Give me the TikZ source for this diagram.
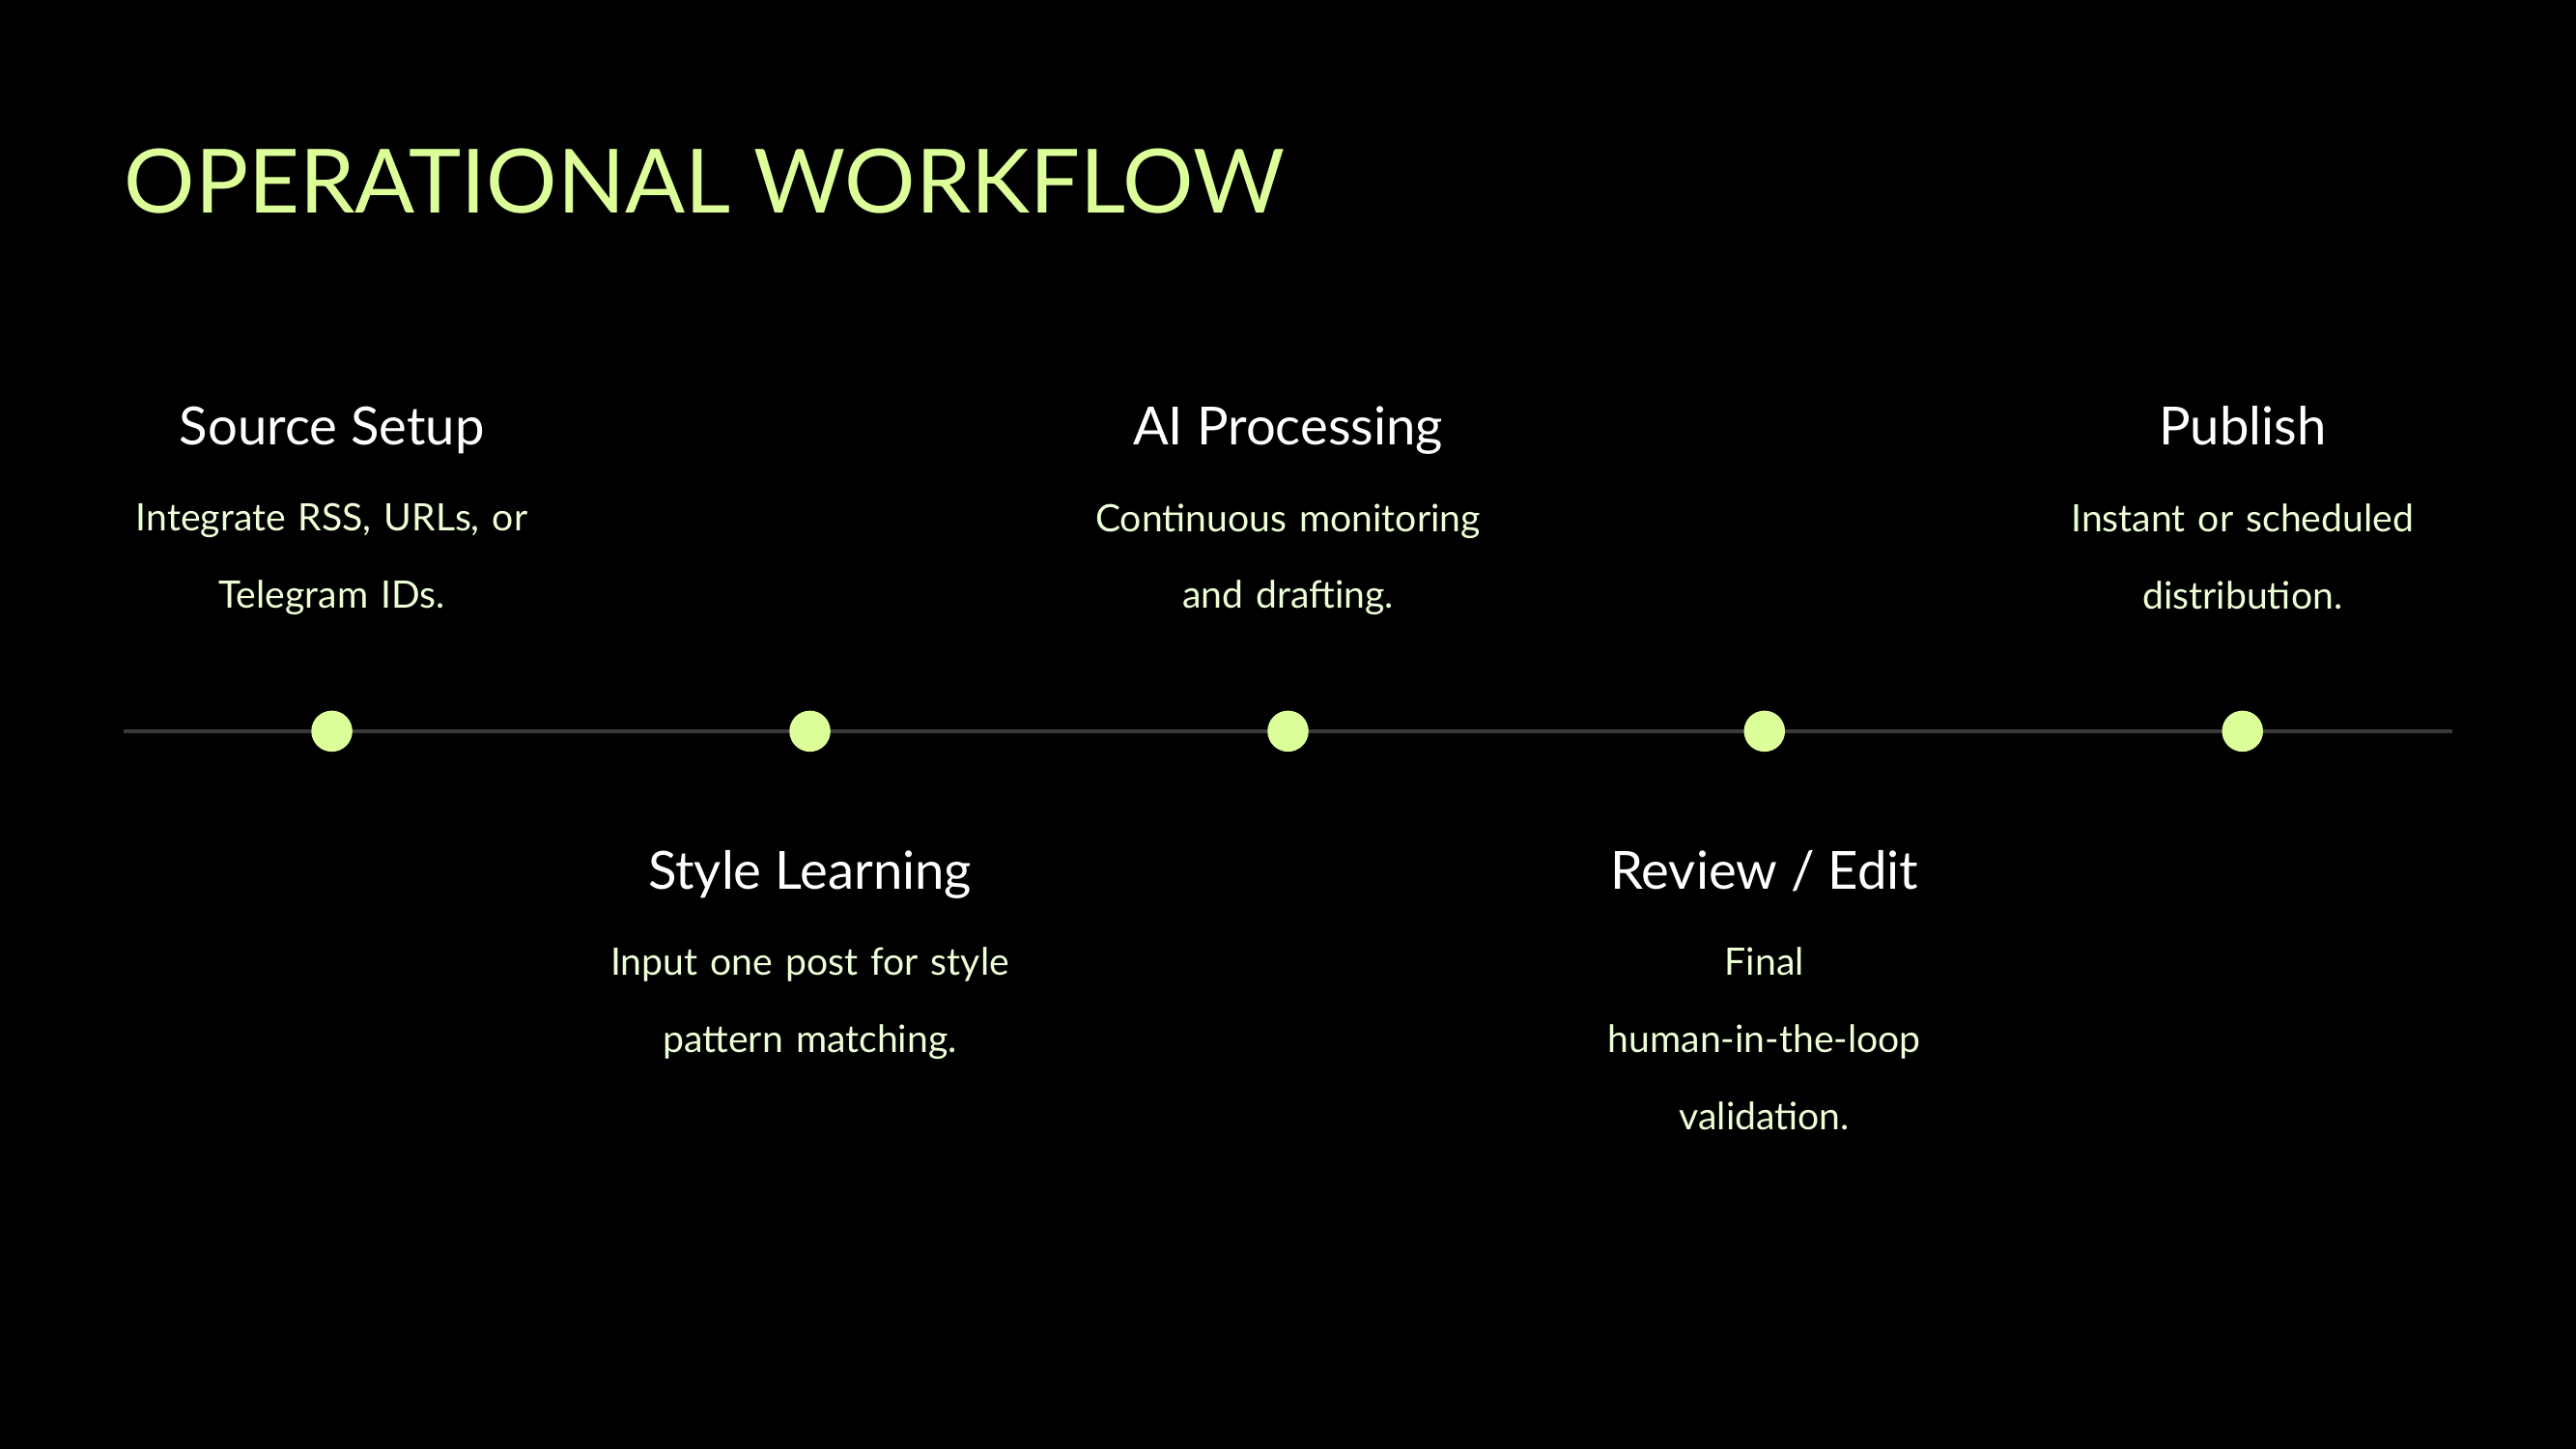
\documentclass[tikz,border=0pt]{standalone}
\usepackage{fontspec}
\setmainfont{Lato}
\definecolor{lime}{HTML}{DDFF99}
\definecolor{pale}{HTML}{EEFFD8}
\definecolor{track}{HTML}{3A3A3A}
\begin{document}
\begin{tikzpicture}[x=1pt,y=-1pt,
  head/.style={text=white,font=\fontsize{32}{36}\selectfont,anchor=base},
  desc/.style={text=pale,font=\fontsize{23}{47}\selectfont,align=center,anchor=north,text width=260pt},
  dot/.style={circle,fill=lime,minimum size=25pt,inner sep=0pt}]
\fill[black] (0,0) rectangle (1568,882);
\useasboundingbox (0,0) rectangle (1568,882);
\node[text=lime,font=\fontsize{54}{60}\selectfont,anchor=west] (title) at (72,110) {OPERATIONAL WORKFLOW};
\coordinate (l) at (75,445); \coordinate (r) at (1493,445);
\draw[track,line width=2pt] (l) -- (r);
\foreach \n/\x in {a/202,b/493,c/784,d/1074,e/1365}{\node[dot] (\n) at (\x,445) {};}
\node[head] (ha) at (202,271) {Source Setup};
\node[desc] (da) at (202,303) {Integrate RSS, URLs, or\\Telegram IDs.};
\node[head] (hc) at (784,271) {AI Processing};
\node[desc] (dc) at (784,303) {Continuous monitoring\\and drafting.};
\node[head] (he) at (1365,271) {Publish};
\node[desc] (de) at (1365,303) {Instant or scheduled\\distribution.};
\node[head] (hb) at (493,541) {Style Learning};
\node[desc] (db) at (493,573) {Input one post for style\\pattern matching.};
\node[head] (hd) at (1074,541) {Review / Edit};
\node[desc] (dd) at (1074,573) {Final\\human-in-the-loop\\validation.};
\end{tikzpicture}
\end{document}
